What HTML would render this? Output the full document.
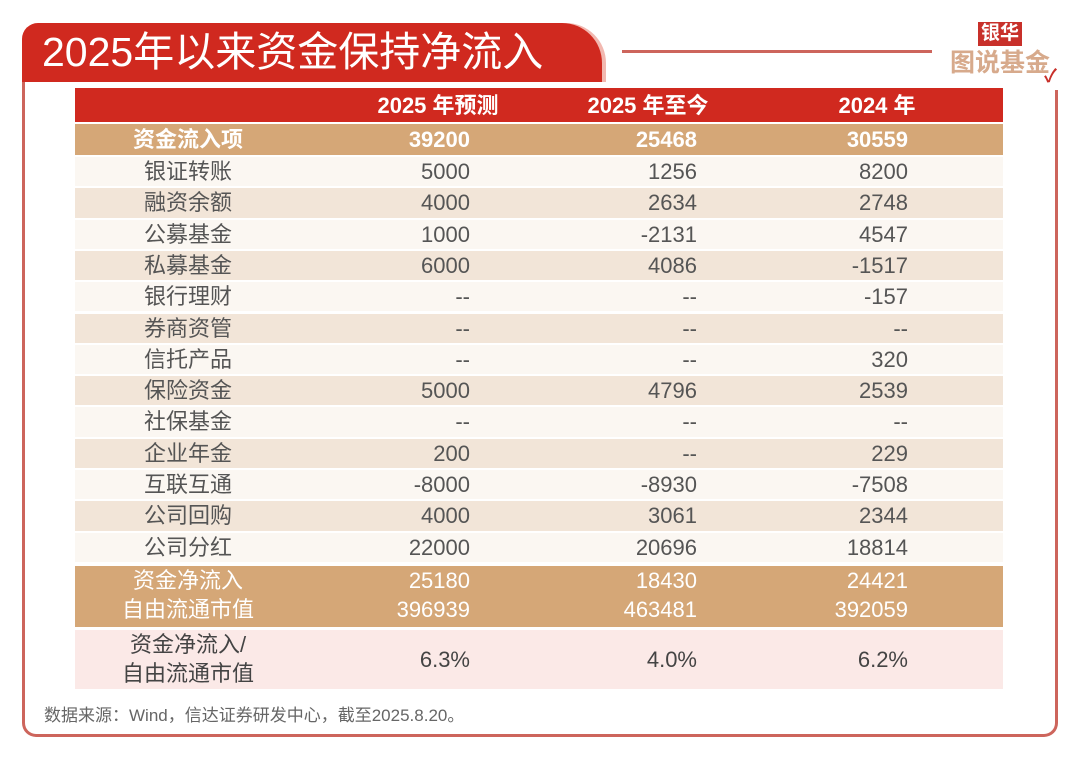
<!DOCTYPE html>
<html><head><meta charset="utf-8">
<style>
body{margin:0;width:1080px;height:759px;background:#fff;position:relative;overflow:hidden;font-family:"Liberation Sans","Noto Sans CJK SC",sans-serif;}
.abs{position:absolute;}
#card{left:22px;top:82px;width:1036px;height:655px;border:3px solid #cd655c;border-top:none;border-radius:0 0 14px 14px;box-sizing:border-box;}
#cardtopfix{left:1030px;top:82px;width:30px;height:8px;background:#fff;}
#title{left:22px;top:23px;width:580px;height:59px;background:#d0291f;border-radius:16px 40px 0 0;color:#fff;font-size:41px;line-height:59px;padding-left:20px;box-sizing:border-box;box-shadow:4px 0 0 #f2b8b0;}
#rule{left:622px;top:50px;width:310px;height:3px;background:#cd655c;}
.cell{position:absolute;font-size:22px;color:#555;line-height:31px;white-space:nowrap;}
.row{position:absolute;left:75px;width:928px;}
</style></head><body>
<div id="card" class="abs"></div>
<div id="cardtopfix" class="abs"></div>
<div id="title" class="abs">2025年以来资金保持净流入</div>
<div id="rule" class="abs"></div>
<div class="abs" style="left:950px;top:20px;width:110px;height:60px;">
 <div style="position:absolute;left:28px;top:2px;background:#c8302a;color:#fff;font-weight:bold;font-size:19px;line-height:24px;padding:0 3px;">银华</div>
 <div style="position:absolute;left:0;top:28px;color:#d7aa8c;font-weight:bold;font-size:25px;line-height:30px;">图说基金</div>
 <div style="position:absolute;left:94px;top:42px;color:#c8302a;font-size:18px;font-weight:bold;">✓</div>
</div>
<div id="table"></div>
<div class="abs" style="left:44px;top:701px;font-size:17px;color:#666;">数据来源：Wind，信达证券研发中心，截至2025.8.20。</div>
<script>
const headers=["2025 年预测","2025 年至今","2024 年"];
const labels=["银证转账","融资余额","公募基金","私募基金","银行理财","券商资管","信托产品","保险资金","社保基金","企业年金","互联互通","公司回购","公司分红"];
const forecast2025=["5000","4000","1000","6000","--","--","--","5000","--","200","-8000","4000","22000"];
const ytd2025=["1256","2634","-2131","4086","--","--","--","4796","--","--","-8930","3061","20696"];
const year2024=["8200","2748","4547","-1517","-157","--","320","2539","--","229","-7508","2344","18814"];
const inflowTotal=["39200","25468","30559"];
const netInflow=["25180","18430","24421"];
const freeFloat=["396939","463481","392059"];
const ratio=["6.3%","4.0%","6.2%"];
const T=document.getElementById('table');
const colRight=[470,697,908];
function band(top,h,bg,name){const d=document.createElement('div');d.className='row';d.style.top=top+'px';d.style.height=h+'px';d.style.background=bg;


T.appendChild(d);}
function txt(x,y,s,opt,name){const d=document.createElement('div');d.className='cell';d.textContent=s;d.style.top=y+'px';
if(opt.right){d.style.left=(x-200)+'px';d.style.width='200px';d.style.textAlign='right';}else{d.style.left=(x-100)+'px';d.style.width='200px';d.style.textAlign='center';}
if(opt.color)d.style.color=opt.color;if(opt.bold)d.style.fontWeight='bold';


T.appendChild(d);}
band(88,34,'#d0291f','header-row');
headers.forEach((h,i)=>txt([438,648,877][i],90,h,{color:'#fff',bold:true},'header-cell'));
band(124,31,'#d5a777','inflow-total-row');
txt(188,124,"资金流入项",{color:'#fff',bold:true},'row-label');
inflowTotal.forEach((v,i)=>txt(colRight[i],124,v,{right:true,color:'#fff',bold:true},'total-value'));
const rh=31.3;
labels.forEach((l,r)=>{const y=157+r*rh;band(y,rh-2,r%2?'#f2e5d8':'#fbf7f2','data-row');
txt(188,y-1,l,{},'row-label');
[forecast2025[r],ytd2025[r],year2024[r]].forEach((v,i)=>txt(colRight[i],y-1,v,{right:true},'data-value'));});
band(566,61,'#d5a777','net-inflow-row');
txt(188,565,"资金净流入",{color:'#fff'},'row-label');txt(188,594,"自由流通市值",{color:'#fff'},'row-label');
netInflow.forEach((v,i)=>txt(colRight[i],565,v,{right:true,color:'#fff'},'net-value'));
freeFloat.forEach((v,i)=>txt(colRight[i],594,v,{right:true,color:'#fff'},'float-value'));
band(630,59,'#fbe9e7','ratio-row');
txt(188,629,"资金净流入/",{color:'#444'},'row-label');txt(188,658,"自由流通市值",{color:'#444'},'row-label');
ratio.forEach((v,i)=>txt(colRight[i],644,v,{right:true,color:'#444'},'ratio-value'));
</script>
</body></html>
